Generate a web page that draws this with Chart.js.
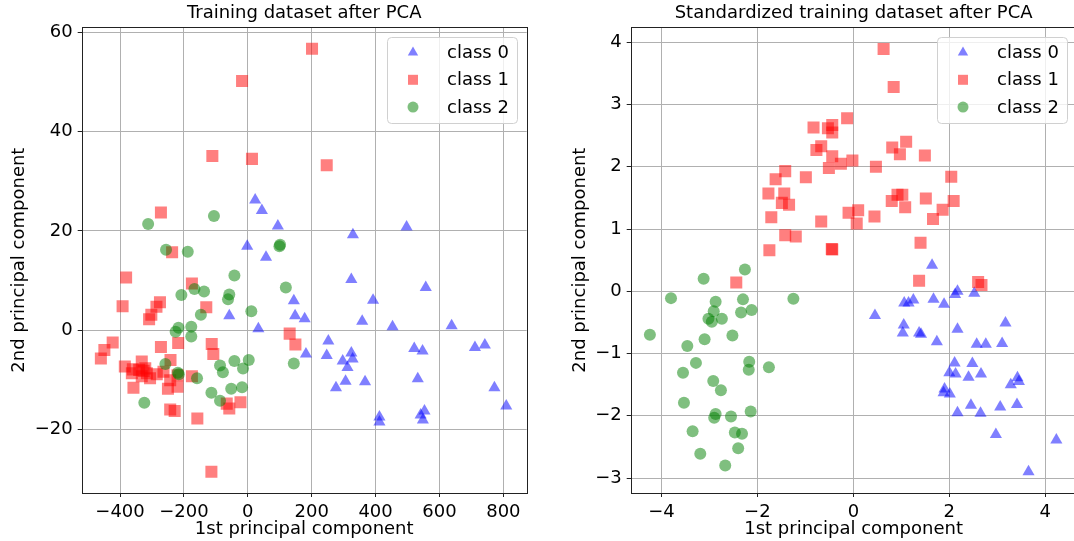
<!DOCTYPE html>
<html>
<head>
<meta charset="utf-8">
<script src="https://cdn.jsdelivr.net/npm/chart.js@4"></script>
<style>
  html, body { margin: 0; padding: 0; background: #fff; overflow: hidden; }
  body { width: 1074px; height: 541px; position: relative; }
  canvas { position: absolute; top: 0; }
  #pcaRaw { left: 0; }
  #pcaStd { left: 537px; }
</style>
</head>
<body>
<canvas id="pcaRaw" width="537" height="541"></canvas>
<canvas id="pcaStd" width="553" height="541"></canvas>
<script>
const classNames = ["class 0", "class 1", "class 2"];
const classColors = ["rgba(0,0,255,0.5)", "rgba(255,0,0,0.5)", "rgba(0,128,0,0.5)"];
const classMarkers = ["triangle", "rect", "circle"];

// tick positions for both panels
const rawXTicks = [-400, -200, 0, 200, 400, 600, 800];
const rawYTicks = [-20, 0, 20, 40, 60];
const stdXTicks = [-4, -2, 0, 2, 4];
const stdYTicks = [-3, -2, -1, 0, 1, 2, 3, 4];

// PCA on the raw training set: [pc1, pc2]
const rawClass0 = [
  [23, 26.2], [44, 24.1], [94, 21.0], [329, 19.2], [497, 20.8], [-2, 16.9], [57, 14.7],
  [324, 10.2], [557, 8.6], [144, 5.9], [392, 6.0], [-58, 2.9], [148, 2.9], [178, 2.3],
  [358, 1.8], [33, 0.3], [453, 0.7], [638, 0.9], [252, -2.2], [521, -3.7], [547, -4.2],
  [711, -3.5], [742, -3.0], [182, -4.8], [247, -5.1], [324, -4.6], [328, -5.8], [297, -6.2],
  [312, -7.5], [306, -10.3], [367, -10.4], [276, -11.6], [532, -9.8], [772, -11.6],
  [809, -15.3], [412, -17.5], [412, -18.5], [553, -16.3], [541, -17.1], [548, -18.1]
];
const rawClass1 = [
  [201, 56.7], [-18, 50.2], [-111, 35.1], [13, 34.5], [247, 33.2], [-272, 23.7], [-237, 15.7],
  [-381, 10.6], [-392, 4.8], [-175, 9.4], [-130, 4.6], [-275, 5.6], [-286, 4.7], [-302, 3.1],
  [-309, 2.2], [131, -0.7], [149, -2.9], [-423, -2.5], [-449, -4.0], [-460, -5.7],
  [-272, -3.4], [-218, -2.6], [-113, -2.8], [-108, -4.8], [-385, -7.3], [-332, -6.3],
  [-242, -6.0], [-360, -7.9], [-363, -8.7], [-321, -7.7], [-316, -8.7], [-332, -9.3],
  [-306, -9.7], [-285, -8.9], [-264, -8.4], [-243, -10.1], [-220, -9.1], [-175, -9.3],
  [-326, -8.2], [-340, -8.0], [-358, -11.6], [-250, -11.8], [-220, -11.4], [-243, -16.0],
  [-229, -16.3], [-158, -17.8], [-66, -14.8], [-58, -15.8], [-23, -14.5], [-114, -28.5]
];
const rawClass2 = [
  [-312, 21.4], [-106, 23.0], [-256, 16.2], [-188, 15.8], [99, 16.9], [101, 17.2],
  [-42, 11.0], [119, 8.6], [-208, 7.1], [-167, 8.3], [-137, 7.8], [-58, 7.2], [-62, 6.2],
  [11, 3.8], [-147, 3.1], [-217, 0.5], [-226, -0.3], [-177, 0.7], [-177, -1.3], [-87, -7.1],
  [-78, -8.5], [-42, -6.2], [3, -6.0], [-15, -7.7], [144, -6.7], [-258, -6.8], [-219, -8.6],
  [-216, -8.9], [-159, -9.7], [-114, -12.6], [-87, -14.2], [-52, -11.8], [-18, -11.5],
  [-324, -14.6]
];

// PCA after standardizing the features
const stdClass0 = [
  [1.64, 0.42], [0.45, -0.39], [1.06, -0.19], [1.15, -0.19], [1.25, -0.14], [1.67, -0.13],
  [1.89, -0.21], [2.12, -0.05], [2.17, 0.00], [2.52, -0.03], [1.05, -0.54], [1.03, -0.67],
  [1.37, -0.67], [1.41, -0.69], [1.74, -0.81], [2.17, -0.61], [3.17, -0.51], [2.57, -0.85],
  [2.76, -0.85], [3.10, -0.84], [2.11, -1.15], [2.48, -1.16], [2.00, -1.31], [2.13, -1.33],
  [2.66, -1.33], [2.40, -1.38], [3.42, -1.39], [3.45, -1.45], [3.28, -1.50], [1.90, -1.57],
  [1.88, -1.63], [2.01, -1.65], [2.45, -1.83], [3.41, -1.82], [3.06, -1.86], [2.17, -1.95],
  [2.65, -1.96], [2.97, -2.30], [4.23, -2.39], [3.65, -2.90]
];
const stdClass1 = [
  [0.63, 3.89], [0.84, 3.28], [-0.13, 2.78], [-0.83, 2.63], [-0.53, 2.62], [-0.44, 2.67],
  [-0.44, 2.55], [-0.77, 2.27], [-0.67, 2.33], [0.81, 2.31], [1.10, 2.40], [0.97, 2.20],
  [1.49, 2.18], [-0.44, 2.17], [-0.26, 2.05], [-0.02, 2.10], [-0.51, 1.98], [0.47, 2.00],
  [-1.42, 1.93], [-1.62, 1.80], [-0.99, 1.83], [2.04, 1.84], [-1.77, 1.57], [-1.44, 1.57],
  [-1.49, 1.42], [-1.34, 1.39], [0.80, 1.45], [0.92, 1.55], [1.02, 1.55], [1.08, 1.35],
  [1.51, 1.49], [2.09, 1.45], [1.86, 1.31], [1.66, 1.16], [-1.71, 1.19], [-0.67, 1.12],
  [-0.10, 1.26], [0.10, 1.30], [0.07, 1.09], [0.44, 1.20], [-1.42, 0.90], [-1.20, 0.88],
  [1.40, 0.78], [-1.75, 0.66], [-0.45, 0.68], [-0.44, 0.67], [-2.44, 0.14], [1.37, 0.17],
  [2.60, 0.15], [2.67, 0.10]
];
const stdClass2 = [
  [-2.26, 0.35], [-3.12, 0.20], [-3.80, -0.11], [-1.25, -0.12], [-2.87, -0.17], [-2.30, -0.13],
  [-2.91, -0.32], [-2.34, -0.34], [-2.12, -0.30], [-3.02, -0.44], [-2.95, -0.49], [-2.74, -0.44],
  [-4.24, -0.70], [-3.10, -0.77], [-2.52, -0.71], [-3.46, -0.88], [-3.28, -1.15], [-2.17, -1.13],
  [-2.18, -1.26], [-1.76, -1.22], [-3.55, -1.31], [-2.92, -1.44], [-2.76, -1.59], [-3.53, -1.79],
  [-2.14, -1.93], [-2.87, -1.97], [-2.90, -2.03], [-2.55, -2.01], [-3.35, -2.25], [-2.47, -2.27],
  [-2.32, -2.29], [-2.40, -2.52], [-3.19, -2.61], [-2.67, -2.80]
];

const FONT = "'DejaVu Sans', sans-serif";
const FSIZE = 18;
const markerRadius = { triangle: 7, rect: 8.5, circle: 6 };
const minus = v => String(v).replace("-", "\u2212");

// box around the plot area plus a matplotlib-style legend in the upper right
const frameAndLegend = {
  id: "frameAndLegend",
  afterDraw(chart) {
    const { ctx, chartArea: a } = chart;
    ctx.save();
    ctx.strokeStyle = "#222";
    ctx.lineWidth = 1;
    ctx.strokeRect(Math.round(a.left) + 0.5, Math.round(a.top) + 0.5,
      Math.round(a.right - a.left), Math.round(a.bottom - a.top));

    const w = 130, h = 86;
    const bx = Math.round(a.right - 10 - w), by = Math.round(a.top + 10);
    ctx.beginPath();
    ctx.roundRect(bx + 0.5, by + 0.5, w, h, 4);
    ctx.fillStyle = "rgba(255,255,255,0.8)";
    ctx.fill();
    ctx.strokeStyle = "#d0d0d0";
    ctx.stroke();

    chart.data.datasets.forEach((ds, i) => {
      const mx = bx + 26, my = by + 15.5 + i * 27.3;
      ctx.fillStyle = ds.backgroundColor;
      ctx.beginPath();
      if (ds.pointStyle === "triangle") {
        const r = 6;
        ctx.moveTo(mx, my - r);
        ctx.lineTo(mx + r * 0.866, my + r * 0.5);
        ctx.lineTo(mx - r * 0.866, my + r * 0.5);
        ctx.closePath();
      } else if (ds.pointStyle === "rect") {
        ctx.rect(mx - 5, my - 5, 10, 10);
      } else {
        ctx.arc(mx, my, 5.5, 0, Math.PI * 2);
      }
      ctx.fill();
      ctx.fillStyle = "#000";
      ctx.font = FSIZE + "px " + FONT;
      ctx.textBaseline = "middle";
      ctx.fillText(ds.label, bx + 60, my + 1);
    });
    ctx.restore();
  }
};

function buildDatasets(groups) {
  return groups.map((pts, i) => ({
    label: classNames[i],
    data: pts.map(p => ({ x: p[0], y: p[1] })),
    pointStyle: classMarkers[i],
    pointRadius: markerRadius[classMarkers[i]],
    backgroundColor: classColors[i],
    borderWidth: 0,
    order: 3 - i
  }));
}

function axis(min, max, tickValues, titleText, fixSize, titlePad) {
  return {
    type: "linear",
    min: min,
    max: max,
    afterFit: fixSize,
    afterBuildTicks: s => { s.ticks = tickValues.map(v => ({ value: v })); },
    border: { display: false },
    grid: { color: "#b0b0b0", lineWidth: 1, tickLength: 4, tickColor: "#222" },
    ticks: {
      padding: 5,
      color: "#000",
      font: { family: FONT, size: FSIZE },
      callback: v => minus(v)
    },
    title: {
      display: true,
      text: titleText,
      color: "#000",
      font: { family: FONT, size: FSIZE },
      padding: titlePad
    }
  };
}

function drawPanel(id, title, groups, xr, yr, xt, yt, yAxisWidth, pad) {
  new Chart(document.getElementById(id), {
    type: "scatter",
    data: { datasets: buildDatasets(groups) },
    options: {
      responsive: false,
      animation: false,
      events: [],
      layout: { padding: pad },
      plugins: {
        legend: { display: false },
        tooltip: { enabled: false },
        title: {
          display: true,
          fullSize: false,
          text: title,
          color: "#000",
          font: { family: FONT, size: FSIZE, weight: "normal" },
          padding: { top: 3, bottom: 2.7 }
        }
      },
      scales: {
        x: axis(xr[0], xr[1], xt, "1st principal component",
          s => { s.height = 48; }, { top: 2, bottom: 1 }),
        y: axis(yr[0], yr[1], yt, "2nd principal component",
          s => { s.width = yAxisWidth; }, { top: 4, bottom: 4 })
      }
    },
    plugins: [frameAndLegend]
  });
}

drawPanel("pcaRaw", "Training dataset after PCA",
  [rawClass0, rawClass1, rawClass2],
  [-520, 873], [-32.8, 61], rawXTicks, rawYTicks, 77.5,
  { left: 4.2, right: 10.3, top: 0, bottom: 0 });

drawPanel("pcaStd", "Standardized training dataset after PCA",
  [stdClass0, stdClass1, stdClass2],
  [-4.64, 4.65], [-3.24, 4.24], stdXTicks, stdYTicks, 65.5,
  { left: 28.2, right: 13.5, top: 0, bottom: 0 });
</script>
</body>
</html>
